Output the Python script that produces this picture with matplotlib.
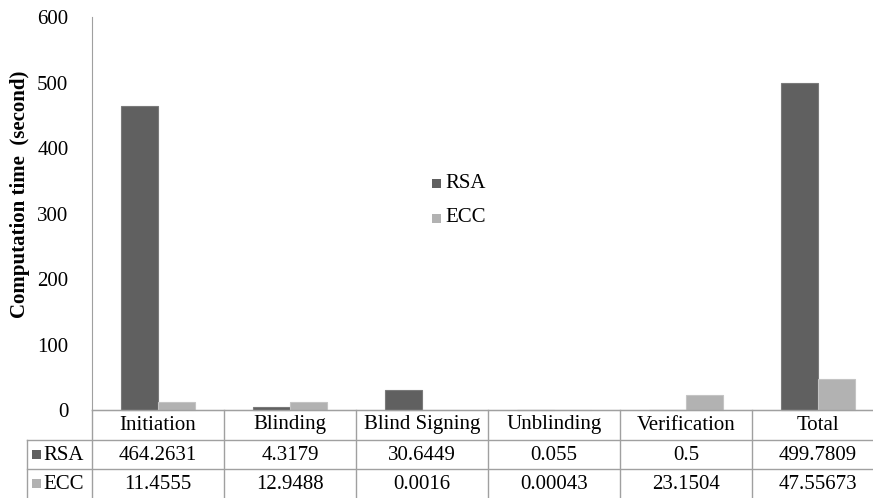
import matplotlib
matplotlib.use("Agg")
import matplotlib.pyplot as plt
from matplotlib.patches import Rectangle
import numpy as np

categories = ["Initiation", "Blinding", "Blind Signing", "Unblinding", "Verification", "Total"]
rsa = [464.2631, 4.3179, 30.6449, 0.055, 0.5, 499.7809]
ecc = [11.4555, 12.9488, 0.0016, 0.00043, 23.1504, 47.55673]
rsa_labels = ["464.2631", "4.3179", "30.6449", "0.055", "0.5", "499.7809"]
ecc_labels = ["11.4555", "12.9488", "0.0016", "0.00043", "23.1504", "47.55673"]
series_names = ["RSA", "ECC"]
colors = ["#606060", "#b2b2b2"]
yticks = [0, 100, 200, 300, 400, 500, 600]

plt.rcParams['font.family'] = ['Liberation Serif', 'DejaVu Serif']
FS = 15

W, H = 873, 498
fig = plt.figure(figsize=(W / 100, H / 100), dpi=100)

left_px, right_px, top_px, bot_px = 92, 873, 17, 410
catw = 132.0
ax = fig.add_axes([left_px / W, 1 - bot_px / H, (right_px - left_px) / W, (bot_px - top_px) / H])
x = np.arange(len(categories))
xmax = -0.5 + (right_px - left_px) / catw
ax.set_xlim(-0.5, xmax)
ax.set_ylim(0, 600)

bw = 0.28
ax.bar(x - bw / 2, rsa, bw, color=colors[0], edgecolor="#7a7a7a", linewidth=0.8, zorder=2, clip_on=False)
ax.bar(x + bw / 2, ecc, bw, color=colors[1], edgecolor="#c4c4c4", linewidth=0.8, zorder=2, clip_on=False)

for s in ["top", "right"]:
    ax.spines[s].set_visible(False)
ax.spines["left"].set_color("#a0a0a0")
ax.spines["bottom"].set_color("#a0a0a0")
ax.spines["bottom"].set_zorder(1)
ax.set_yticks(yticks)
ax.set_yticklabels([str(v) for v in yticks], fontsize=FS)
ax.tick_params(axis="y", length=0, pad=17)
ax.set_xticks([])

def fy(py):
    return 1 - py / H
def fx(px):
    return px / W

fig.text(fx(20), fy(194), "Computation time  (second)", fontsize=FS, fontweight="bold",
         rotation=90, ha="center", va="center")

# Legend in the middle
for i, name in enumerate(series_names):
    yy = 183 + i * 35
    fig.patches.append(Rectangle((fx(432), fy(yy + 5)), 9 / W, 9 / H, transform=fig.transFigure,
                                 facecolor=colors[i], edgecolor="none"))
    fig.text(fx(445), fy(yy), name, fontsize=FS, va="center", ha="left")

# Data table below the axes
line_c = "#a0a0a0"
table_left = 27
fig.add_artist(plt.Line2D([fx(left_px), 1], [fy(410), fy(410)], color=line_c, lw=1))
for yy in [440, 469]:
    fig.add_artist(plt.Line2D([fx(table_left), 1], [fy(yy), fy(yy)], color=line_c, lw=1))
fig.add_artist(plt.Line2D([fx(table_left), fx(table_left)], [fy(440), fy(498)], color=line_c, lw=1))
for k in range(len(categories)):
    bx = left_px + k * catw
    fig.add_artist(plt.Line2D([fx(bx), fx(bx)], [fy(410), fy(498)], color=line_c, lw=1))

for k, c in enumerate(categories):
    cx = left_px + (k + 0.5) * catw
    fig.text(fx(cx), fy(425), c, fontsize=FS, ha="center", va="center")
    fig.text(fx(cx), fy(455), rsa_labels[k], fontsize=FS, ha="center", va="center")
    fig.text(fx(cx), fy(484), ecc_labels[k], fontsize=FS, ha="center", va="center")

for i, name in enumerate(series_names):
    yy = 455 + i * 29
    fig.patches.append(Rectangle((fx(32), fy(yy + 4)), 9 / W, 9 / H, transform=fig.transFigure,
                                 facecolor=colors[i], edgecolor="none"))
    fig.text(fx(43), fy(yy), name, fontsize=FS, ha="left", va="center")

fig.savefig("out.png", dpi=100)
